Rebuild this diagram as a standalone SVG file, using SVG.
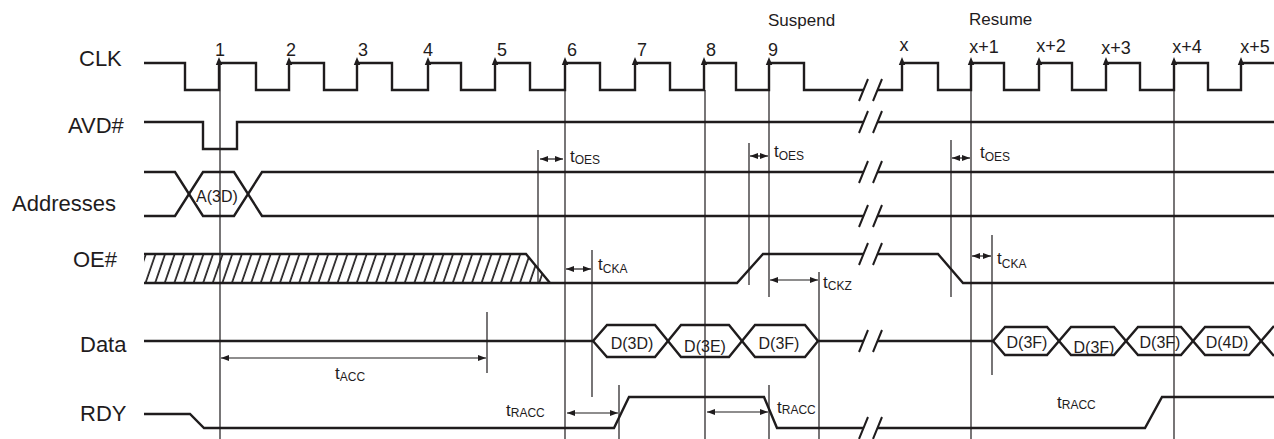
<svg xmlns="http://www.w3.org/2000/svg" width="1274" height="439" viewBox="0 0 1274 439">
<style>
  .sig{fill:none;stroke:#1f1c1d;stroke-width:2.4;stroke-linejoin:miter}
  .thin{fill:none;stroke:#1f1c1d;stroke-width:1.2}
  .arr{fill:none;stroke:#1f1c1d;stroke-width:1.2;marker-start:url(#ah);marker-end:url(#ah)}
  .brk{fill:none;stroke:#1f1c1d;stroke-width:2}
  text{font-family:"Liberation Sans",Arial,sans-serif;fill:#1f1c1d}
  .lbl{font-size:22px}
  .num{font-size:18px;text-anchor:middle}
  .note{font-size:17px}
  .hex{font-size:16px;text-anchor:middle}
  .t{font-size:17px}
  .sub{font-size:12px}
</style>
<defs>
  <marker id="ah" viewBox="0 0 8 6" refX="8" refY="3" markerWidth="8" markerHeight="6" markerUnits="userSpaceOnUse" orient="auto-start-reverse">
    <path d="M0,0 L8,3 L0,6 z" fill="#1f1c1d"/>
  </marker>
  <path id="up" d="M0,-6 L-3.2,2 L3.2,2 z" fill="#1f1c1d"/>
  <pattern id="hatch" patternUnits="userSpaceOnUse" width="9.6" height="40" patternTransform="skewX(-19)">
    <line x1="3" y1="-5" x2="3" y2="45" stroke="#1f1c1d" stroke-width="1.8"/>
  </pattern>
</defs>
<rect width="1274" height="439" fill="#ffffff"/>

<g id="labels">
  <text class="lbl" x="79" y="66">CLK</text>
  <text class="lbl" x="68" y="133">AVD#</text>
  <text class="lbl" x="12" y="211">Addresses</text>
  <text class="lbl" x="73" y="267">OE#</text>
  <text class="lbl" x="80" y="352">Data</text>
  <text class="lbl" x="80" y="421">RDY</text>
  <text class="note" x="768" y="26">Suspend</text>
  <text class="note" x="969" y="25">Resume</text>
</g>

<g id="clk">
  <path class="sig" d="M144,63 H185 V90 H219 V63 H256 V90 H289 V63 H324 V90 H357 V63 H392 V90 H428 V63 H461 V90 H495 V63 H530 V90 H565 V63 H600 V90 H635 V63 H670 V90 H704 V63 H736 V90 H769 V63 H804 V90 H863 M878,90 H902 V63 H938 V90 H971 V63 H1004 V90 H1039 V63 H1072 V90 H1106 V63 H1140 V90 H1174 V63 H1208 V90 H1241 V63 H1274"/>
  <use href="#up" x="219" y="63"/><use href="#up" x="289" y="63"/><use href="#up" x="357" y="63"/>
  <use href="#up" x="428" y="63"/><use href="#up" x="495" y="63"/><use href="#up" x="565" y="63"/>
  <use href="#up" x="635" y="63"/><use href="#up" x="704" y="63"/><use href="#up" x="769" y="63"/>
  <use href="#up" x="902" y="63"/><use href="#up" x="971" y="63"/><use href="#up" x="1039" y="63"/>
  <use href="#up" x="1106" y="63"/><use href="#up" x="1174" y="63"/><use href="#up" x="1241" y="63"/>
  <text class="num" x="220" y="56">1</text>
  <text class="num" x="291" y="56">2</text>
  <text class="num" x="363" y="56">3</text>
  <text class="num" x="428" y="56">4</text>
  <text class="num" x="502" y="56">5</text>
  <text class="num" x="572" y="56">6</text>
  <text class="num" x="642" y="56">7</text>
  <text class="num" x="711" y="56">8</text>
  <text class="num" x="773" y="56">9</text>
  <text class="num" x="904" y="51">x</text>
  <text class="num" x="984" y="53">x+1</text>
  <text class="num" x="1051" y="52">x+2</text>
  <text class="num" x="1116" y="54">x+3</text>
  <text class="num" x="1187" y="53">x+4</text>
  <text class="num" x="1255" y="53">x+5</text>
</g>

<g id="avd">
  <path class="sig" d="M144,122 H203 V149 H237 V122 H863 M878,122 H1274"/>
</g>

<g id="addresses">
  <path class="sig" d="M144,172 H175 L203,216 H234 L262,172 H863 M878,172 H1274"/>
  <path class="sig" d="M144,216 H175 L203,172 H234 L262,216 H863 M878,216 H1274"/>
  <text class="hex" x="217" y="202">A(3D)</text>
</g>

<g id="oe">
  <polygon points="144,254 526,254 550,283 144,283" fill="url(#hatch)"/>
  <path class="sig" d="M144,254 H526 L550,283"/>
  <path class="sig" d="M144,283 H737 L763,254 H863 M878,254 H938 L963,283 H1274"/>
</g>

<g id="data">
  <path class="sig" d="M144,341 H593 L607,325 H655 L681,357 H729 L755,325 H805 L818,341 H863"/>
  <path class="sig" d="M593,341 L607,357 H655 L681,325 H729 L755,357 H805 L818,341"/>
  <path class="sig" d="M878,341 H993 L1005,327 H1047 L1071,355 H1114 L1138,327 H1181 L1205,355 H1249 L1274,326"/>
  <path class="sig" d="M993,341 L1005,355 H1047 L1071,327 H1114 L1138,355 H1181 L1205,327 H1249 L1274,356"/>
  <text class="hex" x="632" y="349">D(3D)</text>
  <text class="hex" x="705" y="352">D(3E)</text>
  <text class="hex" x="779" y="349">D(3F)</text>
  <text class="hex" x="1027" y="348">D(3F)</text>
  <text class="hex" x="1094" y="353">D(3F)</text>
  <text class="hex" x="1160" y="348">D(3F)</text>
  <text class="hex" x="1227" y="348">D(4D)</text>
</g>

<g id="rdy">
  <path class="sig" d="M144,414 H190 L204,428 H614 L629,397 H764 L777,428 H863 M878,428 H1145 L1162,397 H1274"/>
</g>

<g id="breaks">
  <path class="brk" d="M859,101 L868,79 M873,101 L882,79 M859,133 L868,111 M873,133 L882,111 M859,183 L868,161 M873,183 L882,161 M859,227 L868,205 M873,227 L882,205 M859,265 L868,243 M873,265 L882,243 M859,352 L868,330 M873,352 L882,330 M859,439 L868,417 M873,439 L882,417"/>
</g>

<g id="connectors">
  <path class="thin" d="M220,63 V439 M565,90 V439 M705,90 V439 M769,90 V297 M769,385 V439 M971,90 V439 M1174,90 V439 M538,150 V284 M749,143 V285 M951,140 V297 M592,250 V397 M992,235 V375 M819,272 V439 M487,312 V373 M619,385 V439"/>
  <path class="arr" d="M540,159 H563"/>
  <path class="arr" d="M750,156 H768"/>
  <path class="arr" d="M952,158 H970"/>
  <path class="arr" d="M566,269 H591"/>
  <path class="arr" d="M972,256 H991"/>
  <path class="arr" d="M770,280 H818"/>
  <path class="arr" d="M221,358 H486"/>
  <path class="arr" d="M567,413 H618"/>
  <path class="arr" d="M707,412 H768"/>
  <text class="t" x="570" y="162">t<tspan class="sub" dy="2">OES</tspan></text>
  <text class="t" x="774" y="157">t<tspan class="sub" dy="3">OES</tspan></text>
  <text class="t" x="980" y="158">t<tspan class="sub" dy="3">OES</tspan></text>
  <text class="t" x="598" y="270">t<tspan class="sub" dy="3">CKA</tspan></text>
  <text class="t" x="997" y="264">t<tspan class="sub" dy="4">CKA</tspan></text>
  <text class="t" x="823" y="288">t<tspan class="sub" dy="2">CKZ</tspan></text>
  <text class="t" x="335" y="379">t<tspan class="sub" dy="2">ACC</tspan></text>
  <text class="t" x="506" y="416">t<tspan class="sub" dy="1">RACC</tspan></text>
  <text class="t" x="777" y="413">t<tspan class="sub" dy="1">RACC</tspan></text>
  <text class="t" x="1057" y="408">t<tspan class="sub" dy="1">RACC</tspan></text>
</g>
</svg>
